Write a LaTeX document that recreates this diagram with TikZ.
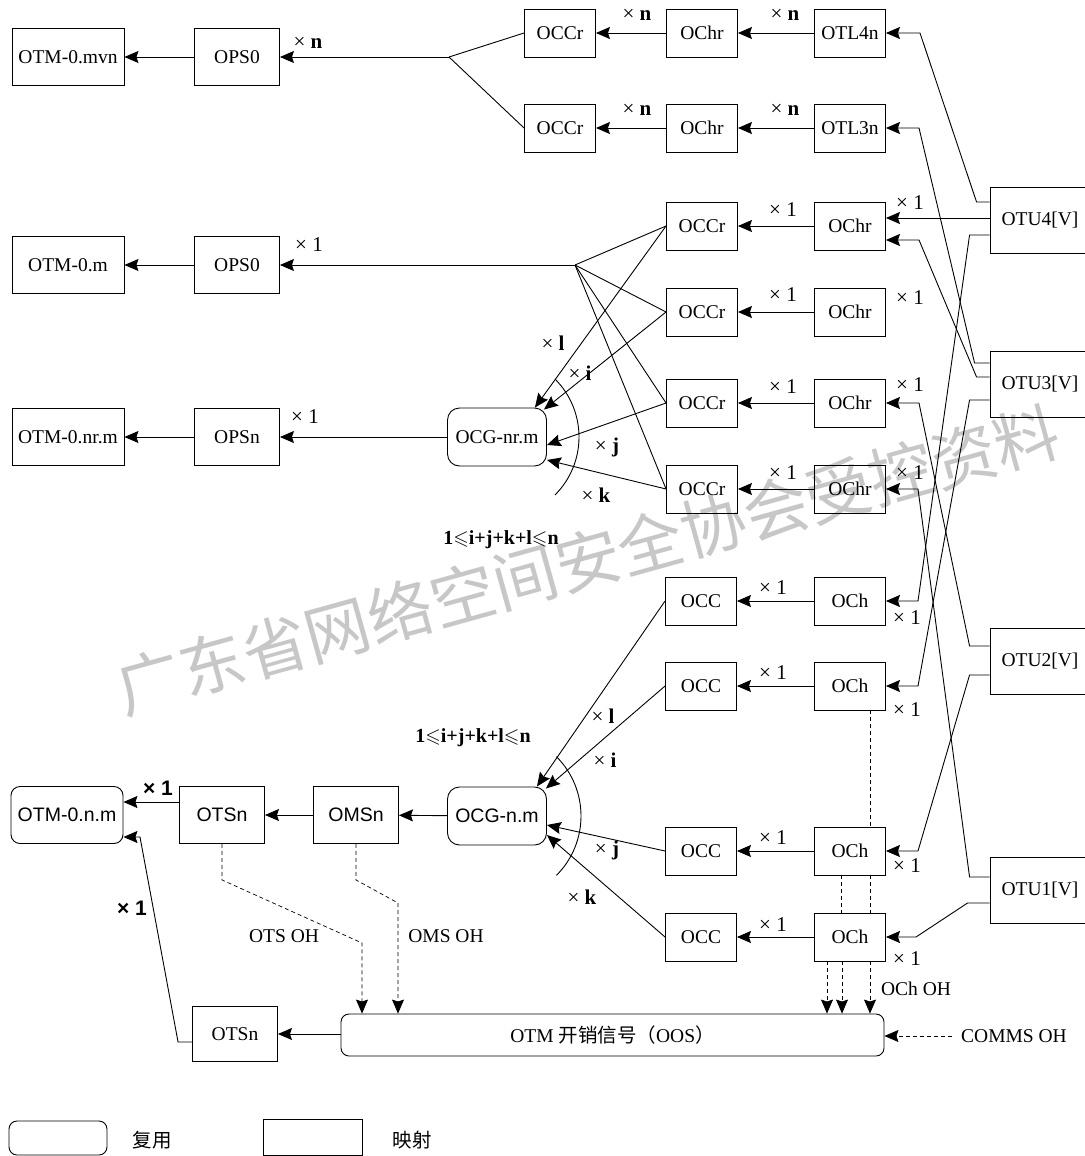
\documentclass[tikz,border=0pt]{standalone}
\usepackage{fontspec}
\usepackage{amssymb}
\setmainfont{Liberation Serif}
\setsansfont{Liberation Sans}
\newfontfamily\cjk{Noto Sans CJK SC}
\usetikzlibrary{arrows.meta}

\begin{document}
\begin{tikzpicture}[x=1pt,y=-1pt,line width=0.9pt,
  txt/.style={font=\fontsize{19.5}{22}\selectfont},
  big/.style={draw,minimum width=112pt,minimum height=57pt,inner sep=0pt,txt},
  ops/.style={draw,minimum width=85pt,minimum height=57pt,inner sep=0pt,txt},
  blk/.style={draw,minimum width=71pt,minimum height=48pt,inner sep=0pt,txt},
  otu/.style={draw,minimum width=100pt,minimum height=66pt,inner sep=0pt,txt},
  grp/.style={draw,rounded corners=12pt,minimum width=99pt,minimum height=58pt,inner sep=0pt,txt},
  sf/.style={font=\sffamily\fontsize{19.5}{22}\selectfont},
  lbl/.style={inner sep=1pt,font=\fontsize{21}{24}\selectfont},
  cond/.style={inner sep=1pt,font=\bfseries\fontsize{20}{24}\selectfont},
  oh/.style={inner sep=1pt,txt},
  arr/.style={-{Stealth[length=14pt,width=12pt,inset=2pt]}},
  dsh/.style={dash pattern=on 4pt off 3pt,line width=0.7pt},
  darr/.style={dsh,-{Stealth[length=14pt,width=12pt,inset=2pt]}},
  wm/.style={text=black!22,font=\cjk\fontsize{65}{68}\selectfont}]
\useasboundingbox (0,0) rectangle (1084,1156);

\node[wm,rotate=15.5] (wmark) at (588,560) {广东省网络空间安全协会受控资料};

\node[big] (otmA) at (68,57) {OTM-0.mvn};
\node[ops] (opsA) at (237,57) {OPS0};
\node[blk] (occrA) at (560,33) {OCCr};
\node[blk] (ochrA) at (702,33) {OChr};
\node[blk] (otl4) at (850,33) {OTL4n};
\node[blk] (occrB) at (560,128) {OCCr};
\node[blk] (ochrB) at (702,128) {OChr};
\node[blk] (otl3) at (850,128) {OTL3n};
\coordinate (brA) at (449,57);

\node[big] (otmB) at (68,265) {OTM-0.m};
\node[ops] (opsB) at (237,265) {OPS0};
\node[big] (otmC) at (68,437) {OTM-0.nr.m};
\node[ops] (opsC) at (237,437) {OPSn};
\node[grp] (ocgA) at (497,437) {OCG-nr.m};
\coordinate (brB) at (575,265);
\node[blk] (occr1) at (702,226) {OCCr};
\node[blk] (ochr1) at (850,226) {OChr};
\node[blk] (occr2) at (702,312) {OCCr};
\node[blk] (ochr2) at (850,312) {OChr};
\node[blk] (occr3) at (702,403) {OCCr};
\node[blk] (ochr3) at (850,403) {OChr};
\node[blk] (occr4) at (702,489) {OCCr};
\node[blk] (ochr4) at (850,489) {OChr};
\node[otu] (otu4) at (1040,220) {OTU4[V]};
\node[otu] (otu3) at (1040,384) {OTU3[V]};

\node[big,rounded corners=9pt,sf] (otmD) at (67,815) {OTM-0.n.m};
\node[ops,sf] (otsA) at (222,815) {OTSn};
\node[ops,sf] (omsA) at (356,815) {OMSn};
\node[grp,sf] (ocgB) at (497,816) {OCG-n.m};
\node[blk] (occ1) at (701,601) {OCC};
\node[blk] (och1) at (850,601) {OCh};
\node[blk] (occ2) at (701,686) {OCC};
\node[blk] (och2) at (850,686) {OCh};
\node[blk] (occ3) at (701,851) {OCC};
\node[blk] (och3) at (850,851) {OCh};
\node[blk] (occ4) at (701,937) {OCC};
\node[blk] (och4) at (850,937) {OCh};
\node[otu] (otu2) at (1040,661) {OTU2[V]};
\node[otu] (otu1) at (1040,890) {OTU1[V]};
\node[ops,minimum height=55pt] (otsB) at (235,1034) {OTSn};
\node[draw,rounded corners=8pt,minimum width=543pt,minimum height=42pt,inner sep=0pt,txt] (oos) at (612.5,1035) {OTM {\cjk 开销信号（}OOS{\cjk ）}};

\node[draw,rounded corners=8pt,minimum width=98pt,minimum height=34pt] (lgA) at (58,1138) {};
\node[txt] (lgAt) at (152,1140) {\cjk 复用};
\node[draw,minimum width=99pt,minimum height=36pt] (lgB) at (312.5,1137) {};
\node[txt] (lgBt) at (412,1140) {\cjk 映射};

\draw[arr] (opsA) -- (otmA);
\draw[arr] (brA) -- (opsA);
\draw (brA) -- (occrA.west);
\draw (brA) -- (occrB.west);
\draw[arr] (ochrA) -- (occrA);
\draw[arr] (otl4) -- (ochrA);
\draw[arr] (ochrB) -- (occrB);
\draw[arr] (otl3) -- (ochrB);
\node[lbl] (xnA) at (308,43) {× \textbf{n}};
\node[lbl] (xnB) at (637,15) {× \textbf{n}};
\node[lbl] (xnC) at (785,15) {× \textbf{n}};
\node[lbl] (xnD) at (637,110) {× \textbf{n}};
\node[lbl] (xnE) at (785,110) {× \textbf{n}};

\draw[arr] (opsB) -- (otmB);
\draw[arr] (brB) -- (opsB);
\draw (brB) -- (occr1.west);
\draw (brB) -- (occr2.west);
\draw (brB) -- (occr3.west);
\draw (brB) -- (occr4.west);
\draw[arr] (opsC) -- (otmC);
\draw[arr] (ocgA) -- (opsC);
\draw[arr] (ochr1) -- (occr1);
\draw[arr] (ochr2) -- (occr2);
\draw[arr] (ochr3) -- (occr3);
\draw[arr] (ochr4) -- (occr4);
\draw[arr] (occr1.west) -- ([xshift=-12pt]ocgA.north east);
\draw[arr] (occr2.west) -- ([xshift=-3pt,yshift=-2pt]ocgA.north east);
\draw[arr] (occr3.west) -- ([yshift=-8pt]ocgA.east);
\draw[arr] (occr4.west) -- ([yshift=-23pt]ocgA.east);
\draw ([shift={(-45:82pt)}]ocgA.center) arc[start angle=-45,end angle=45,radius=82pt];
\node[lbl] at (309,245) {× 1};
\node[lbl] at (305,417) {× 1};
\node[lbl] at (783,210) {× 1};
\node[lbl] at (783,295) {× 1};
\node[lbl] at (783,387) {× 1};
\node[lbl] at (783,473) {× 1};
\node[lbl] at (910,203) {× 1};
\node[lbl] at (910,298) {× 1};
\node[lbl] at (910,385) {× 1};
\node[lbl] at (910,473) {× 1};
\node[lbl] at (553,343) {× \textbf{l}};
\node[lbl] at (580,373) {× \textbf{i}};
\node[lbl] at (607,447) {× \textbf{j}};
\node[lbl] at (596,495) {× \textbf{k}};
\node[cond] at (501,540) {1$\leqslant$i+j+k+l$\leqslant$n};

\draw[arr] (otu4.west |- 0,202) -- ++(-13,0) -- (920,33) -- (otl4.east);
\draw[arr] (otu4.west |- 0,218) -- (ochr1.east |- 0,218);
\draw[arr] (otu4.west |- 0,235) -- ++(-20,0) -- (918,601) -- (och1.east);
\draw[arr] (otu3.west |- 0,363) -- ++(-15,0) -- (919,128) -- (otl3.east);
\draw[arr] (otu3.west |- 0,377) -- ++(-13,0) -- (919,240) -- (ochr1.east |- 0,240);
\draw[arr] (otu3.west |- 0,400) -- ++(-20,0) -- (918,686) -- (och2.east);
\draw[arr] (otu2.west |- 0,646) -- ++(-20,0) -- (919,403) -- (ochr3.east);
\draw[arr] (otu2.west |- 0,675) -- ++(-20,0) -- (918,851) -- (och3.east);
\draw[arr] (otu1.west |- 0,877) -- ++(-20,0) -- (918,489) -- (ochr4.east);
\draw[arr] (otu1.west |- 0,903) -- ++(-22,0) -- (916,937) -- (och4.east);

\draw[arr] (och1) -- (occ1);
\draw[arr] (och2) -- (occ2);
\draw[arr] (och3) -- (occ3);
\draw[arr] (och4) -- (occ4);
\draw[arr] (occ1.west) -- ([xshift=-10pt]ocgB.north east);
\draw[arr] (occ2.west) -- ([xshift=-1pt,yshift=-2pt]ocgB.north east);
\draw[arr] (occ3.west) -- ([yshift=-9pt]ocgB.east);
\draw[arr] (occ4.west) -- ([yshift=-19pt]ocgB.east);
\draw ([shift={(-45:84pt)}]ocgB.center) arc[start angle=-45,end angle=45,radius=84pt];
\draw[arr] (ocgB) -- (omsA);
\draw[arr] (omsA) -- (otsA);
\draw[arr] (otsA.west |- 0,802) -- (otmD.east |- 0,802);
\draw[arr] (otsB.west |- 0,1042) -- ++(-14,0) -- (140,837) -- (otmD.east |- 0,837);
\draw[arr] (oos.west |- otsB) -- (otsB);
\node[lbl] at (773,588) {× 1};
\node[lbl] at (773,673) {× 1};
\node[lbl] at (773,838) {× 1};
\node[lbl] at (773,925) {× 1};
\node[lbl] at (907,618) {× 1};
\node[lbl] at (907,710) {× 1};
\node[lbl] at (907,866) {× 1};
\node[lbl] at (907,959) {× 1};
\node[lbl] at (603,716) {× \textbf{l}};
\node[lbl] at (605,760) {× \textbf{i}};
\node[lbl] at (607,850) {× \textbf{j}};
\node[lbl] at (582,897) {× \textbf{k}};
\node[cond] at (473,738) {1$\leqslant$i+j+k+l$\leqslant$n};
\node[lbl,font=\sffamily\bfseries\fontsize{21}{24}\selectfont] at (158,788) {× 1};
\node[lbl,font=\sffamily\bfseries\fontsize{21}{24}\selectfont] at (132,908) {× 1};

\draw[darr] (otsA.south) -- ++(0,36) -- (362,943) -- (oos.north -| 362,0);
\draw[darr] (omsA.south) -- ++(0,36) -- (398,903) -- (oos.north -| 398,0);
\node[oh] (otsoh) at (284,936) {OTS OH};
\node[oh] (omsoh) at (446,936) {OMS OH};
\draw[dsh] ([xshift=20pt]och2.south) -- ([xshift=20pt]och3.north);
\draw[dsh] ([xshift=-9pt]och3.south) -- ([xshift=-9pt]och4.north);
\draw[dsh] ([xshift=20pt]och3.south) -- ([xshift=20pt]och4.north);
\draw[darr] ([xshift=-23pt]och4.south) -- ([xshift=-23pt]och4.south |- oos.north);
\draw[darr] ([xshift=-8pt]och4.south) -- ([xshift=-8pt]och4.south |- oos.north);
\draw[darr] ([xshift=20pt]och4.south) -- ([xshift=20pt]och4.south |- oos.north);
\node[oh] (ochoh) at (916,989) {OCh OH};
\node[oh] (comms) at (1014,1036) {COMMS OH};
\draw[darr] ([xshift=-8pt]comms.west) -- (oos.east |- comms.west);
\end{tikzpicture}
\end{document}
